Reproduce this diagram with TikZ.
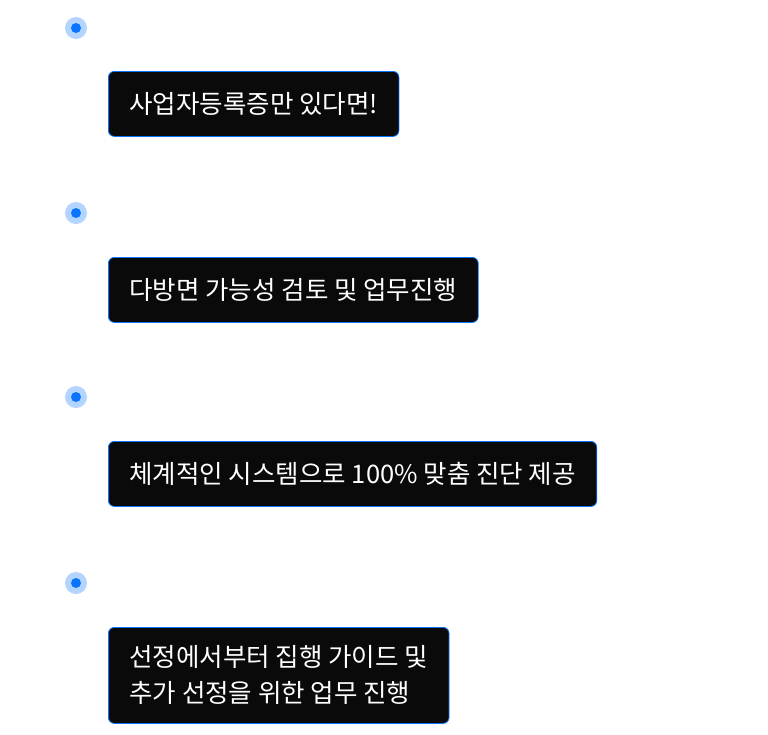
\documentclass[tikz,border=0pt]{standalone}
\usepackage{fontspec}
\newfontfamily\krfont{Noto Sans CJK KR}
\definecolor{dotcolor}{RGB}{10,116,255}
\definecolor{halocolor}{RGB}{179,212,255}
\definecolor{boxcolor}{RGB}{10,10,10}
\usetikzlibrary{positioning}

\begin{document}
\begin{tikzpicture}[x=1pt, y=-1pt,
    bullet/.style={circle, fill=halocolor, inner sep=0pt, minimum size=22pt,
      path picture={\fill[dotcolor] (path picture bounding box.center) circle (5pt);}},
    msgbox/.style={draw=dotcolor, fill=boxcolor, rounded corners=6pt, line width=0.8pt, text=white,
      anchor=north west, inner xsep=21pt, inner ysep=0pt, minimum height=65pt, align=left,
      font=\krfont\fontsize{25.5}{36}\selectfont}]
    \useasboundingbox (0,0) rectangle (768,734);
    % bullets
    \foreach \y/\n in {28/1, 213/2, 397/3, 583/4}
      \node[bullet] (dot\n) at (76,\y) {};
    % messages
    \node[msgbox] (msg1) at (108,71) {사업자등록증만 있다면!};
    \node[msgbox] (msg2) at (108,257) {다방면 가능성 검토 및 업무진행};
    \node[msgbox] (msg3) at (108,441) {체계적인 시스템으로 100\% 맞춤 진단 제공};
    \node[msgbox, minimum height=96pt] (msg4) at (108,627) {선정에서부터 집행 가이드 및\\추가 선정을 위한 업무 진행};
\end{tikzpicture}
\end{document}
